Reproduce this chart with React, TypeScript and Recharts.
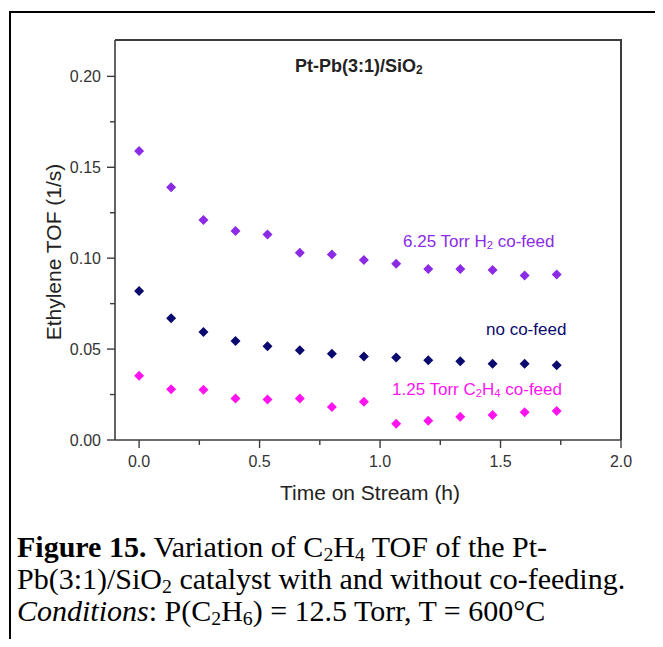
import React from "react";
import { ScatterChart, Scatter, XAxis, YAxis } from "recharts";

// time on stream (h)
const times = [0, 0.133, 0.267, 0.4, 0.533, 0.667, 0.8, 0.933, 1.067, 1.2, 1.333, 1.467, 1.6, 1.733];
// ethylene TOF (1/s)
const h2CoFeed = [0.159, 0.139, 0.121, 0.115, 0.113, 0.103, 0.102, 0.099, 0.097, 0.094, 0.094, 0.0935, 0.0905, 0.091];
const noCoFeed = [0.082, 0.067, 0.0594, 0.0544, 0.0515, 0.0493, 0.0475, 0.0459, 0.0454, 0.0438, 0.0433, 0.042, 0.042, 0.0411];
const c2h4CoFeed = [0.0354, 0.0279, 0.0276, 0.0228, 0.0223, 0.0228, 0.0182, 0.021, 0.0089, 0.0106, 0.0128, 0.0137, 0.0153, 0.0159];

const xTicks = [0, 0.25, 0.5, 0.75, 1, 1.25, 1.5, 1.75, 2];
const yTicks = [0, 0.025, 0.05, 0.075, 0.1, 0.125, 0.15, 0.175, 0.2];
const xDomain = [-0.1, 2];
const yDomain = [0, 0.22];

const PURPLE = "#8b2be6";
const NAVY = "#0a0a6e";
const MAGENTA = "#ff14f0";
const AXIS = "#3c3c3c";
const SANS = "'Liberation Sans', Arial, sans-serif";

// chart box and plot area
const W = 663;
const H = 520;
const M = { top: 40, right: 42, left: 55, bottom: 20 };
const Y_AXIS_W = 60;
const X_AXIS_H = 60;

const toRows = (vals: number[]) => times.map((t, i) => ({ t, v: vals[i] }));

const Diamond = (props: any) => {
  const { cx, cy, fill } = props;
  const r = 5;
  return <path d={`M${cx},${cy - r}L${cx + r},${cy}L${cx},${cy + r}L${cx - r},${cy}Z`} fill={fill} />;
};

const YTick = ({ x, y, payload }: any) => {
  const v = payload.value;
  const major = Math.abs(v * 20 - Math.round(v * 20)) < 1e-6;
  return (
    <g>
      <line x1={x} y1={y} x2={x - (major ? 8 : 5)} y2={y} stroke={AXIS} strokeWidth={1.4} />
      {major && (
        <text x={x - 14} y={y} textAnchor="end" dominantBaseline="central" fontSize={16} fill="#333" fontFamily={SANS}>
          {v.toFixed(2)}
        </text>
      )}
    </g>
  );
};

const XTick = ({ x, y, payload }: any) => {
  const v = payload.value;
  const major = Math.abs(v * 2 - Math.round(v * 2)) < 1e-6;
  return (
    <g>
      <line x1={x} y1={y} x2={x} y2={y + (major ? 8 : 5)} stroke={AXIS} strokeWidth={1.4} />
      {major && (
        <text x={x} y={y + 21} textAnchor="middle" dominantBaseline="central" fontSize={16} fill="#333" fontFamily={SANS}>
          {v.toFixed(1)}
        </text>
      )}
    </g>
  );
};

const Sub = ({ children }: { children: React.ReactNode }) => (
  <span style={{ fontSize: "0.66em", position: "relative", top: "0.18em", lineHeight: 0 }}>{children}</span>
);

export default function App() {
  const plotLeft = M.left + Y_AXIS_W;
  const plotRight = W - M.right;
  const plotTop = M.top;
  const plotBottom = H - M.bottom - X_AXIS_H;
  return (
    <div style={{ position: "relative", width: 663, height: 647, margin: -8, overflow: "hidden", background: "#fff" }}>
      <div style={{ position: "absolute", left: 9, top: 11, width: 700, height: 700, border: "2px solid #000" }} />

      <div style={{ position: "absolute", left: 0, top: 0 }}>
        <ScatterChart width={W} height={H} margin={M}>
          <XAxis
            dataKey="t"
            type="number"
            domain={xDomain}
            ticks={xTicks}
            tick={<XTick />}
            tickLine={false}
            tickSize={0}
            tickMargin={0}
            height={X_AXIS_H}
            interval={0}
            allowDataOverflow
            axisLine={{ stroke: AXIS, strokeWidth: 1.6 }}
          />
          <YAxis
            dataKey="v"
            type="number"
            domain={yDomain}
            ticks={yTicks}
            tick={<YTick />}
            tickLine={false}
            tickSize={0}
            tickMargin={0}
            width={Y_AXIS_W}
            interval={0}
            allowDataOverflow
            axisLine={{ stroke: AXIS, strokeWidth: 1.6 }}
          />
          <Scatter data={toRows(h2CoFeed)} fill={PURPLE} shape={(p: any) => <Diamond {...p} />} isAnimationActive={false} />
          <Scatter data={toRows(noCoFeed)} fill={NAVY} shape={(p: any) => <Diamond {...p} />} isAnimationActive={false} />
          <Scatter data={toRows(c2h4CoFeed)} fill={MAGENTA} shape={(p: any) => <Diamond {...p} />} isAnimationActive={false} />
        </ScatterChart>
      </div>

      {/* top and right sides of the plot frame */}
      <svg width={W} height={H} style={{ position: "absolute", left: 0, top: 0, pointerEvents: "none" }}>
        <path
          d={`M${plotLeft},${plotTop}H${plotRight}V${plotBottom}`}
          fill="none"
          stroke={AXIS}
          strokeWidth={2}
        />
      </svg>

      <div style={{ position: "absolute", left: 295, top: 57, fontFamily: SANS, fontSize: 18, fontWeight: "bold", lineHeight: 1, color: "#222", whiteSpace: "nowrap" }}>
        Pt-Pb(3:1)/SiO<Sub>2</Sub>
      </div>
      <div style={{ position: "absolute", left: 403, top: 233, fontFamily: SANS, fontSize: 17, lineHeight: 1, color: PURPLE, whiteSpace: "nowrap" }}>
        6.25 Torr H<Sub>2</Sub> co-feed
      </div>
      <div style={{ position: "absolute", left: 486, top: 321, fontFamily: SANS, fontSize: 17, lineHeight: 1, color: NAVY, whiteSpace: "nowrap" }}>
        no co-feed
      </div>
      <div style={{ position: "absolute", left: 392, top: 381, fontFamily: SANS, fontSize: 17, lineHeight: 1, color: MAGENTA, whiteSpace: "nowrap" }}>
        1.25 Torr C<Sub>2</Sub>H<Sub>4</Sub> co-feed
      </div>

      <div
        style={{
          position: "absolute",
          left: 53,
          top: 252,
          transform: "translate(-50%, -50%) rotate(-90deg)",
          fontFamily: SANS,
          fontSize: 21,
          lineHeight: 1,
          color: "#222",
          whiteSpace: "nowrap",
        }}
      >
        Ethylene TOF (1/s)
      </div>
      <div
        style={{
          position: "absolute",
          left: 370,
          top: 492,
          transform: "translate(-50%, -50%)",
          fontFamily: SANS,
          fontSize: 21,
          lineHeight: 1,
          color: "#222",
          whiteSpace: "nowrap",
        }}
      >
        Time on Stream (h)
      </div>

      <div
        style={{
          position: "absolute",
          left: 17,
          top: 531,
          fontFamily: "'Liberation Serif', 'Times New Roman', serif",
          fontSize: 30,
          lineHeight: "32px",
          color: "#000",
          whiteSpace: "nowrap",
        }}
      >
        <div>
          <b>Figure 15.</b> Variation of C<Sub>2</Sub>H<Sub>4</Sub> TOF of the Pt-
        </div>
        <div>
          Pb(3:1)/SiO<Sub>2</Sub> catalyst with and without co-feeding.
        </div>
        <div>
          <i>Conditions</i>: P(C<Sub>2</Sub>H<Sub>6</Sub>) = 12.5 Torr, T = 600°C
        </div>
      </div>
    </div>
  );
}
